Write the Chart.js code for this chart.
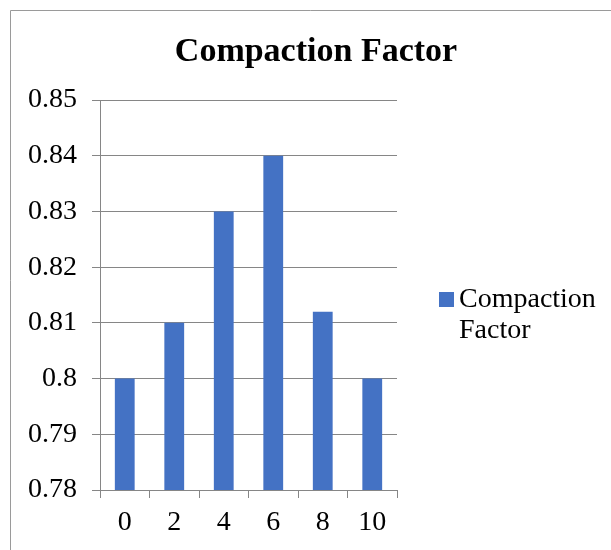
<!DOCTYPE html>
<html>
<head>
<meta charset="utf-8">
<script src="https://cdn.jsdelivr.net/npm/chart.js@4/dist/chart.umd.min.js"></script>
<style>
  html, body { margin: 0; padding: 0; background: #ffffff; }
  #wrap { width: 611px; height: 550px; position: relative; overflow: hidden; }
  canvas { display: block; }
</style>
</head>
<body>
<div id="wrap"><canvas id="chart" width="611" height="550"></canvas></div>
<script>
// Compaction factor measured at each replacement level
const categories = ['0', '2', '4', '6', '8', '10'];
const compactionFactor = [0.80, 0.81, 0.83, 0.84, 0.812, 0.80];
const seriesName = 'Compaction Factor';
const chartTitle = 'Compaction Factor';
const yMin = 0.78;
const yMax = 0.85;
const yStep = 0.01;

const SERIF = '"Liberation Serif", "Times New Roman", serif';
const BAR_BLUE = '#4472C4';
const LINE_GREY = '#868686';

// Outer frame, title and a two-line legend drawn on the canvas
const decorations = {
  id: 'decorations',
  beforeDraw(chart) {
    const ctx = chart.ctx;
    ctx.save();
    ctx.strokeStyle = '#9a9a9a';
    ctx.lineWidth = 1;
    ctx.beginPath();
    ctx.moveTo(10.5, 550);
    ctx.lineTo(10.5, 10.5);
    ctx.lineTo(611, 10.5);
    ctx.stroke();
    ctx.restore();
  },
  afterDraw(chart) {
    const ctx = chart.ctx;
    ctx.save();
    ctx.fillStyle = '#000000';
    ctx.textBaseline = 'alphabetic';
    ctx.textAlign = 'center';
    ctx.font = 'bold 34px ' + SERIF;
    ctx.fillText(chartTitle, 316, 61);

    const ds = chart.data.datasets[0];
    ctx.fillStyle = ds.backgroundColor;
    ctx.fillRect(439, 292, 15, 15);
    ctx.fillStyle = '#000000';
    ctx.textAlign = 'left';
    ctx.font = '28px ' + SERIF;
    const words = ds.label.split(' ');
    ctx.fillText(words[0], 459, 307);
    ctx.fillText(words.slice(1).join(' '), 459, 338);
    ctx.restore();
  }
};

new Chart(document.getElementById('chart'), {
  type: 'bar',
  data: {
    labels: categories,
    datasets: [{
      label: seriesName,
      data: compactionFactor,
      backgroundColor: BAR_BLUE,
      borderWidth: 0,
      categoryPercentage: 1.0,
      barPercentage: 0.4
    }]
  },
  options: {
    responsive: false,
    animation: false,
    devicePixelRatio: 1,
    layout: { padding: { left: 0, top: 100, right: 214, bottom: 0 } },
    plugins: {
      legend: { display: false },
      title: { display: false },
      tooltip: { enabled: false }
    },
    scales: {
      x: {
        afterFit(scale) { scale.height = 60; },
        grid: {
          offset: true,
          drawOnChartArea: false,
          drawTicks: true,
          tickLength: 8,
          color: LINE_GREY,
          lineWidth: 1
        },
        border: { display: true, color: LINE_GREY, width: 1 },
        ticks: {
          color: '#000000',
          font: { family: SERIF, size: 28 },
          padding: 8,
          maxRotation: 0
        }
      },
      y: {
        min: yMin,
        max: yMax,
        afterFit(scale) { scale.width = 100; },
        grid: {
          drawOnChartArea: true,
          drawTicks: true,
          tickLength: 8,
          color: LINE_GREY,
          lineWidth: 1
        },
        border: { display: true, color: LINE_GREY, width: 1 },
        ticks: {
          stepSize: yStep,
          color: '#000000',
          font: { family: SERIF, size: 28 },
          padding: 15,
          callback: (v) => String(Number(v.toFixed(2)))
        }
      }
    }
  },
  plugins: [decorations]
});
</script>
</body>
</html>
